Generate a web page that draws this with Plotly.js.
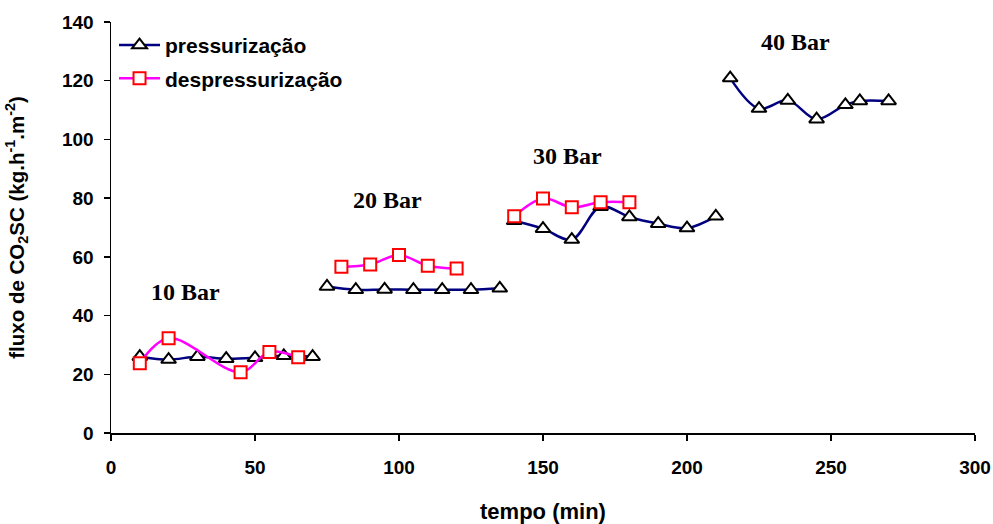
<!DOCTYPE html>
<html>
<head>
<meta charset="utf-8">
<script src="https://cdn.plot.ly/plotly-3.0.1.min.js"></script>
<style>html,body{margin:0;padding:0;background:#fff;}#chart{width:993px;height:524px;}</style>
</head>
<body>
<div id="chart"></div>
<script>
// pressurização (time in min, flux)
const press10X = [10, 20, 30, 40, 50, 60, 70];
const press10Y = [26, 25, 26, 25.3, 25.6, 26.3, 26];
const press20X = [75, 85, 95, 105, 115, 125, 135];
const press20Y = [49.9, 48.8, 48.9, 48.8, 48.8, 48.8, 49.3];
const press30X = [140, 150, 160, 170, 180, 190, 200, 210];
const press30Y = [72.3, 69.6, 65.9, 77.1, 73.6, 71.3, 69.8, 73.8];
const press40X = [215, 225, 235, 245, 255, 260, 270];
const press40Y = [120.9, 110.5, 113.3, 106.9, 111.8, 113.1, 113.1];

// despressurização
const desp10X = [10, 20, 45, 55, 65];
const desp10Y = [23.8, 32.3, 20.7, 27.6, 25.8];
const desp20X = [80, 90, 100, 110, 120];
const desp20Y = [56.6, 57.4, 60.6, 57.0, 56.0];
const desp30X = [140, 150, 160, 170, 180];
const desp30Y = [73.8, 79.9, 76.9, 78.6, 78.6];

// labels
const labelText = ['10 Bar', '20 Bar', '30 Bar', '40 Bar'];
const labelX = [25.7, 96, 158.5, 237.5];
const labelY = [47.9, 79.2, 94.3, 133.2];

function joinSegments(segs) {
  const out = [];
  segs.forEach((s, i) => { if (i > 0) out.push(null); out.push(...s); });
  return out;
}

const pressX = joinSegments([press10X, press20X, press30X, press40X]);
const pressY = joinSegments([press10Y, press20Y, press30Y, press40Y]);
const despX = joinSegments([desp10X, desp20X, desp30X]);
const despY = joinSegments([desp10Y, desp20Y, desp30Y]);

const traces = [
  {
    x: pressX, y: pressY, name: 'pressurização', type: 'scatter', mode: 'lines+markers',
    connectgaps: false, legendgroup: 'a',
    line: {color: '#000080', width: 2.5, shape: 'spline'},
    marker: {symbol: 'triangle-up', size: 13, color: '#ffffff', line: {color: '#000000', width: 2}}
  },
  {
    x: despX, y: despY, name: 'despressurização', type: 'scatter', mode: 'lines+markers',
    connectgaps: false, legendgroup: 'b',
    line: {color: '#FF00FF', width: 2.5, shape: 'spline'},
    marker: {symbol: 'square', size: 12, color: '#ffffff', line: {color: '#FF0000', width: 2}}
  }
];

const annotations = labelText.map((t, i) => ({
  x: labelX[i], y: labelY[i], xref: 'x', yref: 'y', text: '<b>' + t + '</b>', showarrow: false,
  font: {family: 'Liberation Serif, Times New Roman, serif', size: 24, color: '#000'}
}));

const sans = 'Liberation Sans, Arial, sans-serif';

const layout = {
  width: 993, height: 524,
  margin: {l: 111, r: 18, t: 22, b: 91},
  paper_bgcolor: '#fff', plot_bgcolor: '#fff',
  showlegend: true,
  legend: {
    x: 0.0035, y: 0.993, xanchor: 'left', yanchor: 'top', bgcolor: 'rgba(0,0,0,0)',
    traceorder: 'grouped', tracegroupgap: 3, itemwidth: 41,
    font: {family: sans, size: 21, color: '#000', weight: 'bold'}
  },
  xaxis: {
    range: [0, 300], dtick: 50, showgrid: false, zeroline: false,
    showline: true, linecolor: '#000', linewidth: 1.5,
    ticks: 'outside', ticklen: 6, tickwidth: 1.5, tickcolor: '#000',
    tickfont: {family: sans, size: 19, color: '#000', weight: 'bold'}, ticklabelstandoff: 11,
    title: {text: '<b>tempo (min)</b>', font: {family: sans, size: 22, color: '#000'}, standoff: 26}
  },
  yaxis: {
    range: [0, 140], dtick: 20, showgrid: false, zeroline: false,
    showline: true, linecolor: '#000', linewidth: 1.5,
    ticks: 'outside', ticklen: 6, tickwidth: 1.5, tickcolor: '#000',
    tickfont: {family: sans, size: 19, color: '#000', weight: 'bold'}, ticklabelstandoff: 6,
    title: {text: '<b>fluxo de CO<sub>2</sub>SC (kg.h<sup>-1</sup>.m<sup>-2</sup>)</b>', font: {family: sans, size: 20.5, color: '#000'}, standoff: 32}
  },
  annotations: annotations
};

Plotly.newPlot('chart', traces, layout, {displayModeBar: false, staticPlot: true});
</script>
</body>
</html>
